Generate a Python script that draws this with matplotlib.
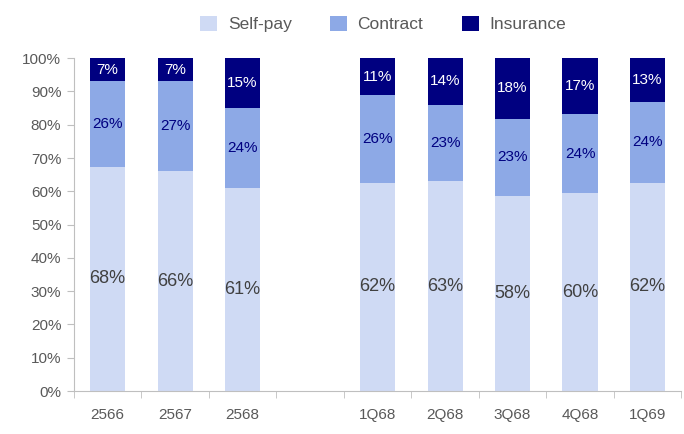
import matplotlib
matplotlib.use("Agg")
import matplotlib.pyplot as plt
import numpy as np

plt.rcParams["font.family"] = ["Liberation Sans", "DejaVu Sans"]

# ── Data
categories = ["2566", "2567", "2568", "", "1Q68", "2Q68", "3Q68", "4Q68", "1Q69"]
self_pay  = [68, 66, 61, None, 62, 63, 58, 60, 62]
contract  = [26, 27, 24, None, 26, 23, 23, 24, 24]
insurance = [7, 7, 15, None, 11, 14, 18, 17, 13]

C_SELF = "#CFDAF4"
C_CONT = "#8DA9E6"
C_INS = "#000080"
GREY = "#595959"

fig = plt.figure(figsize=(6.84, 4.34), dpi=100)
ax = fig.add_axes([0.108, 0.099, 0.888, 0.767])

x = np.arange(len(categories))
w = 0.52
for i, cat in enumerate(categories):
    if self_pay[i] is None:
        continue
    tot = self_pay[i] + contract[i] + insurance[i]
    s, c, n = self_pay[i] / tot, contract[i] / tot, insurance[i] / tot
    ax.bar(x[i], s, w, color=C_SELF, label="Self-pay" if i == 0 else None)
    ax.bar(x[i], c, w, bottom=s, color=C_CONT, label="Contract" if i == 0 else None)
    ax.bar(x[i], n, w, bottom=s + c, color=C_INS, label="Insurance" if i == 0 else None)
    ax.text(x[i], s / 2, f"{self_pay[i]}%", ha="center", va="center", fontsize=13, color="#404040")
    ax.text(x[i], s + c / 2, f"{contract[i]}%", ha="center", va="center", fontsize=11, color=C_INS)
    ax.text(x[i], s + c + n / 2, f"{insurance[i]}%", ha="center", va="center", fontsize=11, color="white")

ax.set_xlim(-0.5, len(categories) - 0.5)
ax.set_ylim(0, 1)
ax.set_yticks(np.arange(0, 1.01, 0.1))
ax.set_yticklabels([f"{int(round(v * 100))}%" for v in np.arange(0, 1.01, 0.1)])
ax.set_xticks(x)
ax.set_xticklabels(categories)
ax.set_xticks(np.arange(-0.5, len(categories)), minor=True)
ax.tick_params(axis="x", which="major", length=0, pad=12, labelsize=11, labelcolor=GREY)
ax.tick_params(axis="x", which="minor", length=5, color="#BFBFBF")
ax.tick_params(axis="y", length=5, color="#BFBFBF", labelsize=11, labelcolor=GREY, pad=4)

for side in ["top", "right"]:
    ax.spines[side].set_visible(False)
for side in ["left", "bottom"]:
    ax.spines[side].set_color("#BFBFBF")

fig.legend(loc="upper center", bbox_to_anchor=(0.56, 1.0), ncol=3, frameon=False,
           fontsize=12.5, handlelength=1.0, handleheight=1.0, columnspacing=2.2,
           handletextpad=0.6, labelcolor=GREY)

fig.savefig("out.png", dpi=100)
